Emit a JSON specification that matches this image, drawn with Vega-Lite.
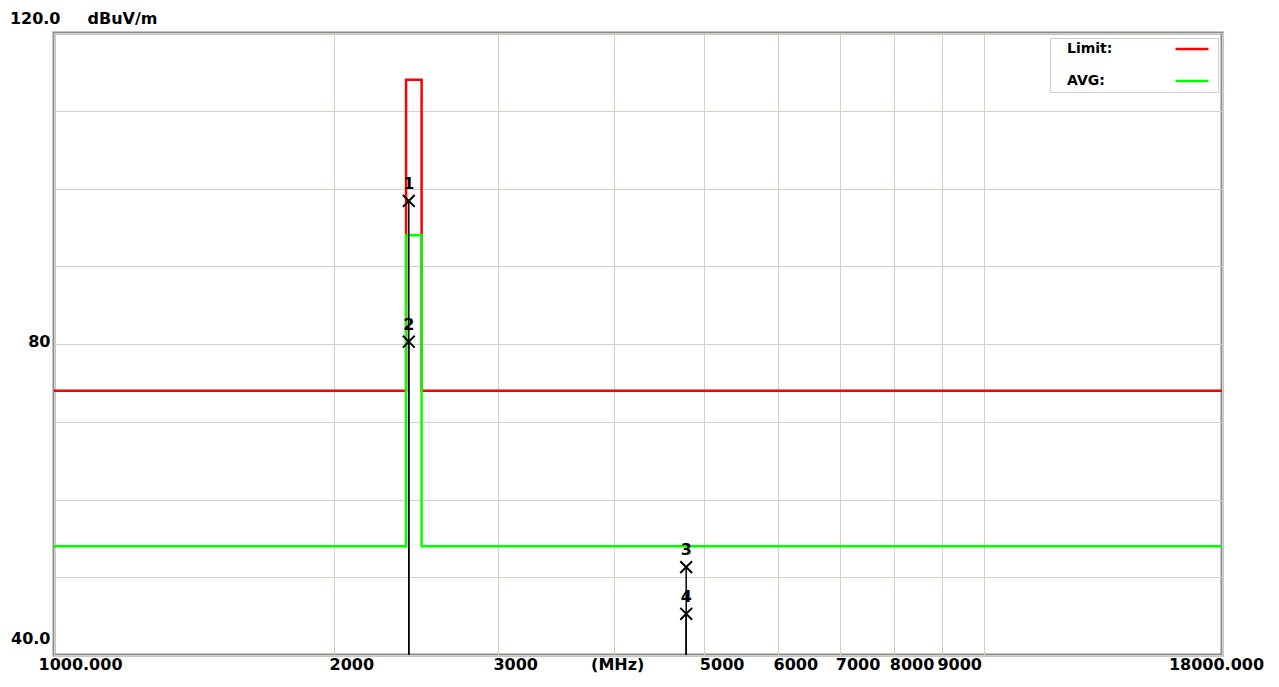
{
  "$schema": "https://vega.github.io/schema/vega-lite/v6.json",
  "width": 1168,
  "height": 622,
  "autosize": "none",
  "padding": {"left": 54, "top": 33, "right": 57, "bottom": 32},
  "background": "white",
  "config": {
    "view": {"stroke": "#8c8c8c", "strokeWidth": 3},
    "font": "DejaVu Sans"
  },
  "datasets": {
    "lines": [
      {"freq": 1000, "level": 74, "series": "Limit:", "ord": 1},
      {"freq": 2390, "level": 74, "series": "Limit:", "ord": 2},
      {"freq": 2390, "level": 114, "series": "Limit:", "ord": 3},
      {"freq": 2483.5, "level": 114, "series": "Limit:", "ord": 4},
      {"freq": 2483.5, "level": 74, "series": "Limit:", "ord": 5},
      {"freq": 18000, "level": 74, "series": "Limit:", "ord": 6},
      {"freq": 1000, "level": 54, "series": "AVG:", "ord": 1},
      {"freq": 2390, "level": 54, "series": "AVG:", "ord": 2},
      {"freq": 2390, "level": 94, "series": "AVG:", "ord": 3},
      {"freq": 2483.5, "level": 94, "series": "AVG:", "ord": 4},
      {"freq": 2483.5, "level": 54, "series": "AVG:", "ord": 5},
      {"freq": 18000, "level": 54, "series": "AVG:", "ord": 6}
    ],
    "markers": [
      {"freq": 2406, "level": 98.4, "id": "1"},
      {"freq": 2406, "level": 80.3, "id": "2"},
      {"freq": 4780, "level": 51.3, "id": "3"},
      {"freq": 4780, "level": 45.3, "id": "4"}
    ]
  },
  "encoding": {
    "x": {
      "field": "freq",
      "type": "quantitative",
      "scale": {"type": "log", "domain": [1000, 18000], "nice": false},
      "axis": {
        "title": null,
        "values": [1000, 2000, 3000, 4000, 5000, 6000, 7000, 8000, 9000, 10000, 18000],
        "labelExpr": "datum.value==1000?'1000.000':datum.value==18000?'18000.000':datum.value==4000?'(MHz)':datum.value==10000?'':format(datum.value,'d')",
        "grid": true,
        "gridColor": "#d4d0c8",
        "gridWidth": 1,
        "ticks": false,
        "domain": false,
        "labelFont": "DejaVu Sans",
        "labelFontWeight": "bold",
        "labelFontSize": 16,
        "labelColor": "#000000",
        "labelPadding": 1,
        "labelFlush": false,
        "labelOverlap": false,
        "labelAlign": {"condition": {"test": "datum.value==4000 || datum.value==18000", "value": "center"}, "value": "left"},
        "labelOffset": {"condition": [
          {"test": "datum.value==1000", "value": -16},
          {"test": "datum.value==4000", "value": 3},
          {"test": "datum.value==18000", "value": -6}
        ], "value": -5}
      }
    },
    "y": {
      "field": "level",
      "type": "quantitative",
      "scale": {"domain": [40, 120], "nice": false, "zero": false},
      "axis": {
        "title": "dBuV/m",
        "titleAngle": 0,
        "titleX": 33,
        "titleY": -15,
        "titleAlign": "left",
        "titleBaseline": "middle",
        "titleFont": "DejaVu Sans",
        "titleFontWeight": "bold",
        "titleFontSize": 16,
        "titleColor": "#000000",
        "values": [40, 50, 60, 70, 80, 90, 100, 110, 120],
        "labelExpr": "datum.value==120?'120.0':datum.value==80?'80':datum.value==40?'40.0':''",
        "grid": true,
        "gridColor": "#d4d0c8",
        "gridWidth": 1,
        "ticks": false,
        "domain": false,
        "labelFont": "DejaVu Sans",
        "labelFontWeight": "bold",
        "labelFontSize": 16,
        "labelColor": "#000000",
        "labelFlush": false,
        "labelOverlap": false,
        "labelPadding": {"condition": {"test": "datum.value==120", "value": -6}, "value": 4},
        "labelOffset": {"condition": [
          {"test": "datum.value==120", "value": -15},
          {"test": "datum.value==40", "value": -17}
        ], "value": -3}
      }
    }
  },
  "layer": [
    {
      "data": {"name": "lines"},
      "mark": {"type": "line", "strokeWidth": 2.5},
      "encoding": {
        "color": {
          "field": "series",
          "type": "nominal",
          "scale": {"domain": ["Limit:", "AVG:"], "range": ["#ff0000", "#00ff00"]},
          "legend": {
            "title": null,
            "orient": "none",
            "legendX": 996,
            "legendY": 5,
            "direction": "vertical",
            "fillColor": "white",
            "strokeColor": "#d4d0c8",
            "padding": 4,
            "rowPadding": 18,
            "symbolType": "M-3,0L3,0",
            "symbolSize": 121,
            "symbolStrokeWidth": 2.5,
            "symbolOffset": 131,
            "labelFont": "DejaVu Sans",
            "labelFontWeight": "bold",
            "labelFontSize": 14,
            "labelColor": "#000000",
            "labelAlign": "left",
            "labelOffset": -132
          }
        },
        "order": {"field": "ord", "type": "quantitative"}
      }
    },
    {
      "data": {"name": "markers"},
      "mark": {"type": "rule", "color": "#000000", "strokeWidth": 1.5},
      "encoding": {"y2": {"datum": 40}}
    },
    {
      "data": {"name": "markers"},
      "mark": {"type": "point", "shape": "M-1,-1L1,1M1,-1L-1,1", "size": 140, "filled": false, "stroke": "#000000", "strokeWidth": 2, "opacity": 1}
    },
    {
      "data": {"name": "markers"},
      "mark": {"type": "text", "dy": -17, "font": "DejaVu Sans", "fontWeight": "bold", "fontSize": 16, "color": "#000000", "baseline": "middle"},
      "encoding": {"text": {"field": "id"}}
    }
  ]
}
